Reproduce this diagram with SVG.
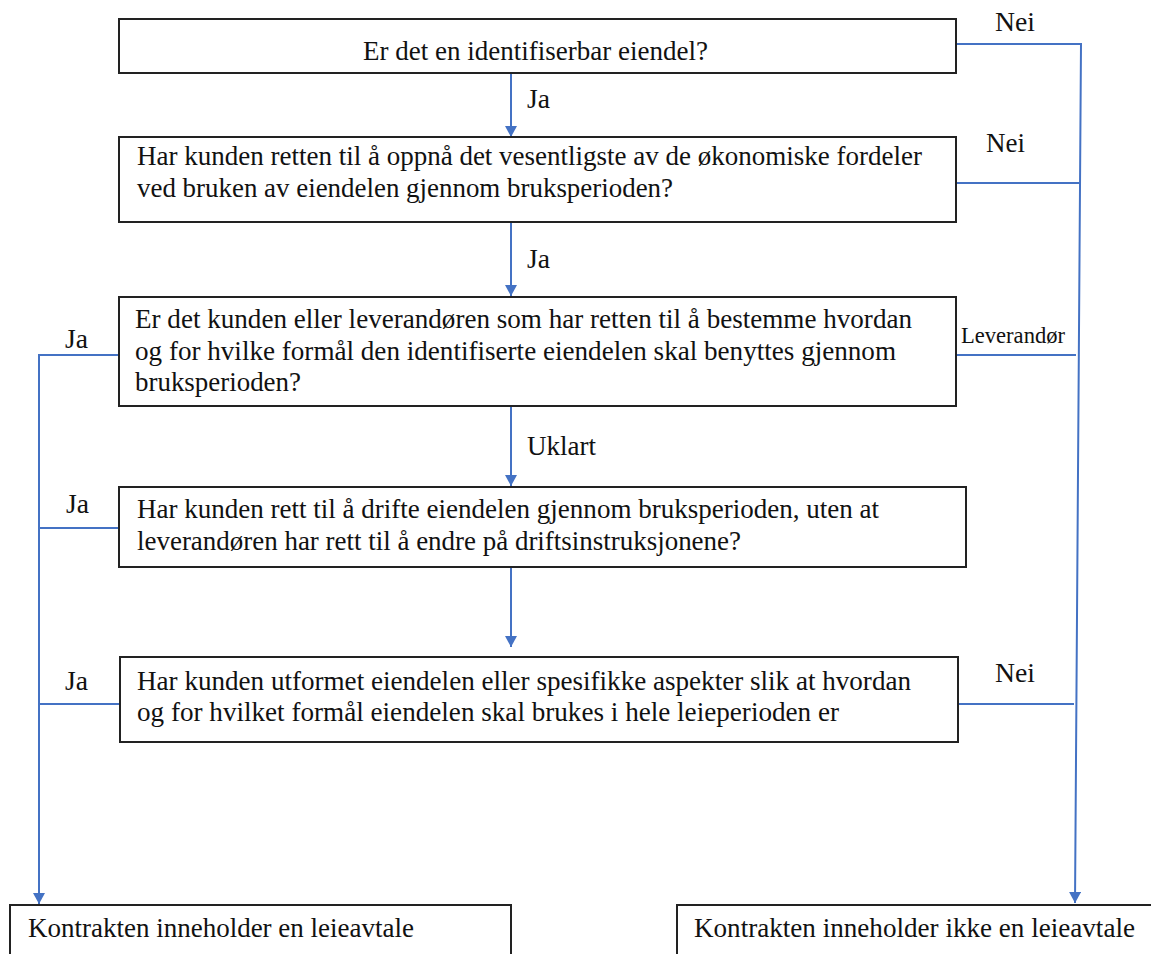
<svg xmlns="http://www.w3.org/2000/svg" width="1151" height="954" viewBox="0 0 1151 954">
<style>
.box{fill:#fff;stroke:#222;stroke-width:2}
.t{font-size:27px;fill:#111}
.s{font-size:22.5px;fill:#111}
.c{fill:none;stroke:#4472c4;stroke-width:2}
</style>
<defs>
<marker id="ah" markerUnits="userSpaceOnUse" markerWidth="12" markerHeight="12" refX="11" refY="6" orient="auto">
<path d="M0,0 L11,6 L0,12 z" fill="#4472c4"/>
</marker>
</defs>
<rect width="1151" height="954" fill="#fff"/>
<g font-family="'Liberation Serif', 'Times New Roman', 'DejaVu Serif', serif">
<g id="connectors">
<line class="c" x1="511" y1="74" x2="511" y2="137" marker-end="url(#ah)"/>
<line class="c" x1="511" y1="223" x2="511" y2="296" marker-end="url(#ah)"/>
<line class="c" x1="511" y1="407" x2="511" y2="486" marker-end="url(#ah)"/>
<line class="c" x1="511" y1="568" x2="511" y2="647" marker-end="url(#ah)"/>
<polyline class="c" points="957,44 1081,44 1075,903" marker-end="url(#ah)"/>
<line class="c" x1="957" y1="183" x2="1080" y2="183"/>
<line class="c" x1="957" y1="355" x2="1076" y2="355"/>
<line class="c" x1="954" y1="704" x2="1074" y2="704"/>
<polyline class="c" points="118,355 39,355 39,904" marker-end="url(#ah)"/>
<line class="c" x1="39" y1="528" x2="119" y2="528"/>
<line class="c" x1="39" y1="704" x2="120" y2="704"/>
<text class="t" x="527" y="108" textLength="23" lengthAdjust="spacingAndGlyphs">Ja</text>
<text class="t" x="527" y="268" textLength="23" lengthAdjust="spacingAndGlyphs">Ja</text>
<text class="t" x="527" y="455" textLength="69" lengthAdjust="spacingAndGlyphs">Uklart</text>
<text class="t" x="995" y="31" textLength="40" lengthAdjust="spacingAndGlyphs">Nei</text>
<text class="t" x="986" y="152" textLength="39" lengthAdjust="spacingAndGlyphs">Nei</text>
<text class="s" x="961" y="343" textLength="104" lengthAdjust="spacingAndGlyphs">Leverandør</text>
<text class="t" x="995" y="682" textLength="40" lengthAdjust="spacingAndGlyphs">Nei</text>
<text class="t" x="65" y="348" textLength="23" lengthAdjust="spacingAndGlyphs">Ja</text>
<text class="t" x="66" y="513" textLength="23" lengthAdjust="spacingAndGlyphs">Ja</text>
<text class="t" x="65" y="690" textLength="23" lengthAdjust="spacingAndGlyphs">Ja</text>
</g>
<g id="n1">
<rect class="box" x="119" y="19" width="837" height="54"/>
<text class="t" x="363" y="60" textLength="345" lengthAdjust="spacingAndGlyphs">Er det en identifiserbar eiendel?</text>
</g>
<g id="n2">
<rect class="box" x="119" y="137" width="837" height="85"/>
<text class="t" x="137" y="165" textLength="785" lengthAdjust="spacingAndGlyphs">Har kunden retten til å oppnå det vesentligste av de økonomiske fordeler</text>
<text class="t" x="137" y="197" textLength="536" lengthAdjust="spacingAndGlyphs">ved bruken av eiendelen gjennom bruksperioden?</text>
</g>
<g id="n3">
<rect class="box" x="119" y="297" width="837" height="109"/>
<text class="t" x="135" y="328" textLength="777" lengthAdjust="spacingAndGlyphs">Er det kunden eller leverandøren som har retten til å bestemme hvordan</text>
<text class="t" x="135" y="360" textLength="761" lengthAdjust="spacingAndGlyphs">og for hvilke formål den identifiserte eiendelen skal benyttes gjennom</text>
<text class="t" x="135" y="391" textLength="166" lengthAdjust="spacingAndGlyphs">bruksperioden?</text>
</g>
<g id="n4">
<rect class="box" x="119" y="487" width="847" height="80"/>
<text class="t" x="137" y="518" textLength="742" lengthAdjust="spacingAndGlyphs">Har kunden rett til å drifte eiendelen gjennom bruksperioden, uten at</text>
<text class="t" x="137" y="550" textLength="604" lengthAdjust="spacingAndGlyphs">leverandøren har rett til å endre på driftsinstruksjonene?</text>
</g>
<g id="n5">
<rect class="box" x="120" y="657" width="838" height="85"/>
<text class="t" x="137" y="690" textLength="774" lengthAdjust="spacingAndGlyphs">Har kunden utformet eiendelen eller spesifikke aspekter slik at hvordan</text>
<text class="t" x="137" y="721" textLength="702" lengthAdjust="spacingAndGlyphs">og for hvilket formål eiendelen skal brukes i hele leieperioden er</text>
</g>
<g id="n6">
<rect class="box" x="10" y="905" width="501" height="60"/>
<text class="t" x="28" y="937" textLength="386" lengthAdjust="spacingAndGlyphs">Kontrakten inneholder en leieavtale</text>
</g>
<g id="n7">
<rect class="box" x="677" y="905" width="490" height="60"/>
<text class="t" x="694" y="937" textLength="441" lengthAdjust="spacingAndGlyphs">Kontrakten inneholder ikke en leieavtale</text>
</g>
</g>
</svg>
